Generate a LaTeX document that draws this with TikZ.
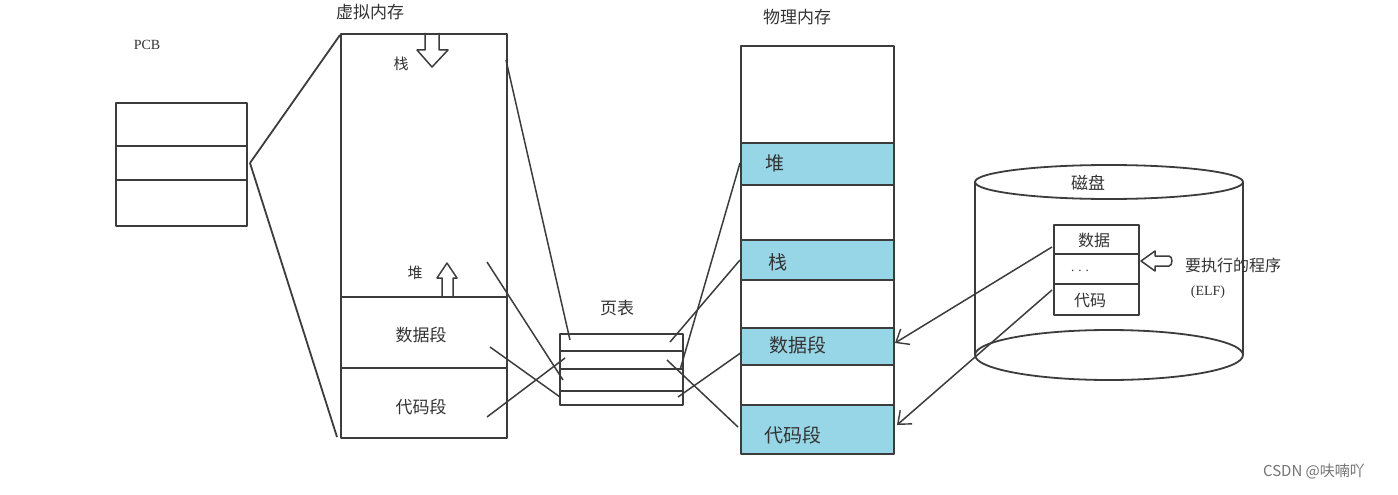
\documentclass[tikz,border=0pt]{standalone}
\usepackage{fontspec}
\setmainfont{Noto Sans CJK SC}
\newfontfamily\serifen{Liberation Serif}
\usetikzlibrary{arrows.meta}
\definecolor{segblue}{RGB}{150,214,230}
\definecolor{inkc}{RGB}{60,60,60}
\begin{document}
\begin{tikzpicture}[x=1pt,y=-1pt,line join=round,
  ln/.style={draw=inkc,line width=1.8pt},
  thin/.style={draw=inkc,line width=1.5pt},
  box/.style={ln,rectangle,inner sep=0pt,anchor=north west},
  lbl/.style={inner sep=0pt,text=black!80,font=\fontsize{#1}{#1}\selectfont},
  lbl/.default=16,
  hollow/.style={draw=inkc,line width=1.5pt,fill=white},
  barb/.style={thin,-{Straight Barb[length=11pt,width=18pt,line width=1.4pt]}}
]
\useasboundingbox[fill=white] (0,0) rectangle (1398,495);

% ---------- PCB ----------
\node[lbl=14] (pcbt) at (147,45) {\serifen PCB};
\node[box,minimum width=131pt,minimum height=123pt] (pcb) at (115,102) {};
\draw[ln] (115,146) -- (246,146);
\draw[ln] (115,180) -- (246,180);

% ---------- virtual memory ----------
\node[lbl=17] (vmt) at (370,12) {虚拟内存};
\filldraw[hollow] (425,33) -- (425,50) -- (417,50) -- (432,67) -- (448,50) -- (439,50) -- (439,33);
\filldraw[hollow] (442,297) -- (442,278) -- (437,278) -- (447,263) -- (457,278) -- (453,278) -- (453,297);
\node[box,minimum width=166pt,minimum height=404pt] (vm) at (340,33) {};
\draw[ln] (340,297) -- (506,297);
\draw[ln] (340,368) -- (506,368);
\node[lbl=15] (vstack) at (401,64) {栈};
\node[lbl=15] (vheap) at (415,273) {堆};
\node[lbl=17] (vdata) at (421,335) {数据段};
\node[lbl=17] (vcode) at (421,407) {代码段};

% ---------- page table ----------
\node[lbl=17] (ptt) at (617,308) {页表};
\node[box,minimum width=123pt,minimum height=71pt] (pt) at (559,333) {};
\draw[ln] (559,351) -- (682,351);
\draw[ln] (559,369) -- (682,369);
\draw[ln] (559,391) -- (682,391);

% ---------- physical memory ----------
\node[lbl=17] (pmt) at (797,17) {物理内存};
\fill[segblue] (740,143) rectangle (893,185);
\fill[segblue] (740,240) rectangle (893,280);
\fill[segblue] (740,328) rectangle (893,365);
\fill[segblue] (740,405) rectangle (893,453);
\node[box,minimum width=153pt,minimum height=408pt] (pm) at (740,45) {};
\foreach \yy in {143,185,240,280,328,365,405}
  \draw[ln] (740,\yy) -- (893,\yy);
\node[lbl=19] (pheap) at (775,163) {堆};
\node[lbl=19] (pstack) at (778,262) {栈};
\node[lbl=19] (pdata) at (798,345) {数据段};
\node[lbl=19] (pcode) at (793,435) {代码段};

% ---------- disk ----------
\draw[ln] (975,182) -- (975,355);
\draw[ln] (1243,182) -- (1243,355);
\filldraw[ln,fill=white] (1109,355) ellipse [x radius=134,y radius=25];
\draw[ln] (1109,182) ellipse [x radius=134,y radius=17];
\node[lbl=17] (diskt) at (1088,183) {磁盘};
\node[box,minimum width=85pt,minimum height=90pt,fill=white] (elf) at (1053,224) {};
\draw[ln] (1053,254) -- (1138,254);
\draw[ln] (1053,284) -- (1138,284);
\node[lbl=16] (edata) at (1094,240) {数据};
\node[lbl=13] (edots) at (1080,271) {\serifen .\hspace{4pt}.\hspace{4pt}.};
\node[lbl=16] (ecode) at (1090,301) {代码};
\filldraw[hollow] (1141,261) -- (1155,251) -- (1155,256) -- (1169,256)
   to[out=0,in=0] (1169,266) -- (1155,266) -- (1155,271) -- cycle;
\node[lbl=16,anchor=west] (prog) at (1185,265) {要执行的程序};
\node[lbl=14] (elfl) at (1208,292) {\serifen (ELF)};

% ---------- connector end points ----------
\coordinate (pcbR) at (250,163);
\coordinate (vmTL) at (340,35);
\coordinate (vmBL) at (337,437);
\coordinate (vs) at (506,60);   \coordinate (ts) at (570,340);
\coordinate (vh) at (487,262);  \coordinate (th) at (563,380);
\coordinate (vd) at (490,347);  \coordinate (td) at (560,397);
\coordinate (vc) at (487,417);  \coordinate (tc) at (565,358);
\coordinate (ts2) at (670,342); \coordinate (ps) at (740,260);
\coordinate (th2) at (680,370); \coordinate (ph) at (740,163);
\coordinate (td2) at (678,397); \coordinate (pd) at (742,352);
\coordinate (tc2) at (667,360); \coordinate (pc) at (738,427);
\coordinate (ed) at (1052,247); \coordinate (pd2) at (895,343);
\coordinate (ec) at (1052,290); \coordinate (pc2) at (897,425);

% ---------- connectors ----------
\draw[ln] (pcbR) -- (vmTL);
\draw[ln] (pcbR) -- (vmBL);
\draw[thin] (vs) -- (ts);
\draw[thin] (vh) -- (th);
\draw[thin] (vd) -- (td);
\draw[thin] (vc) -- (tc);
\draw[thin] (ts2) -- (ps);
\draw[thin] (th2) -- (ph);
\draw[thin] (td2) -- (pd);
\draw[thin] (tc2) -- (pc);
\draw[barb] (ed) -- (pd2);
\draw[barb] (ec) -- (pc2);

% ---------- watermark ----------
\node[inner sep=0pt,text=black!55,font=\fontsize{15}{15}\selectfont] (wm) at (1314,471) {CSDN @呋喃吖};
\end{tikzpicture}
\end{document}
